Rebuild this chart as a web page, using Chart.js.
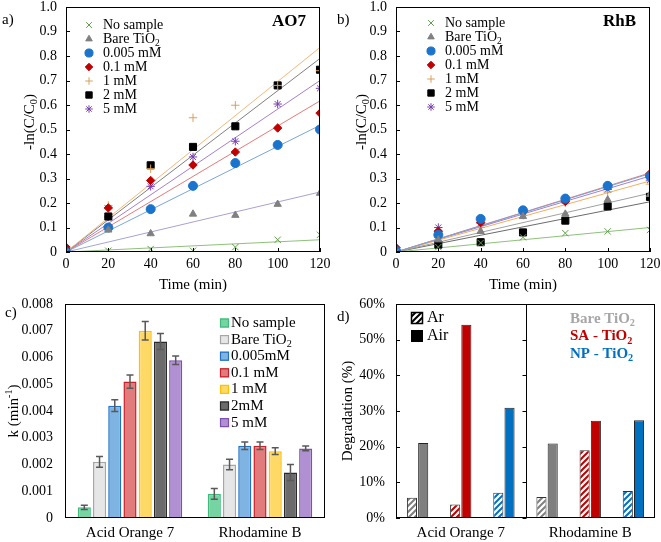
<!DOCTYPE html>
<html>
<head>
<meta charset="utf-8">
<script src="https://cdn.jsdelivr.net/npm/chart.js@4.4.0/dist/chart.umd.min.js"></script>
<style>
  body { margin: 0; background: #fff; }
  #wrap { position: relative; width: 661px; height: 542px; }
  canvas { position: absolute; }
</style>
</head>
<body>
<div id="wrap">
  <canvas id="cA" width="330" height="292" style="left:0;top:0"></canvas>
  <canvas id="cB" width="331" height="292" style="left:330px;top:0"></canvas>
  <canvas id="cC" width="330" height="252" style="left:0;top:290px"></canvas>
  <canvas id="cD" width="331" height="252" style="left:330px;top:290px"></canvas>
</div>
<script>
// ---- dados ----
const times = [0, 20, 40, 60, 80, 100, 120];
const seriesNames = ['No sample', 'Bare TiO2', '0.005 mM', '0.1 mM', '1 mM', '2 mM', '5 mM'];

// a) AO7  -ln(C/C0)
const aoNoSample = [0, 0.005, 0.012, 0.005, 0.02, 0.05, 0.07];
const aoBare     = [0, 0.09, 0.075, 0.155, 0.15, 0.195, 0.24];
const ao0005     = [0, 0.10, 0.175, 0.27, 0.363, 0.437, 0.50];
const ao01       = [0.02, 0.18, 0.292, 0.355, 0.408, 0.506, 0.567];
const ao1        = [0, 0.19, 0.34, 0.548, 0.599, 0.68, 0.74];
const ao2        = [0, 0.145, 0.354, 0.429, 0.513, 0.68, 0.744];
const ao5        = [0, 0.143, 0.268, 0.388, 0.452, 0.604, 0.668];
const aoFitEnd   = [0.05, 0.245, 0.517, 0.617, 0.835, 0.79, 0.70];   // trendline value at 120 min

// b) RhB
const rhNoSample = [0, 0.02, 0.037, 0.06, 0.077, 0.084, 0.09];
const rhBare     = [0, 0.05, 0.084, 0.145, 0.155, 0.213, 0.235];
const rh0005     = [0.005, 0.07, 0.135, 0.17, 0.218, 0.27, 0.31];
const rh01       = [0.018, 0.085, 0.12, 0.164, 0.206, 0.27, 0.32];
const rh1        = [0, 0.06, 0.10, 0.15, 0.20, 0.245, 0.277];
const rh2        = [0, 0.03, 0.04, 0.08, 0.128, 0.186, 0.225];
const rh5        = [0, 0.10, 0.118, 0.163, 0.208, 0.255, 0.293];
const rhFitEnd   = [0.10, 0.24, 0.32, 0.323, 0.29, 0.205, 0.31];

// c) k (min-1)
const dyes = ['Acid Orange 7', 'Rhodamine B'];
const kSeries = ['No sample', 'Bare TiO2', '0.005mM', '0.1 mM', '1 mM', '2mM', '5 mM'];
const kNoSample = [0.0004, 0.0009];
const kBare     = [0.0021, 0.0020];
const k0005     = [0.0042, 0.0027];
const k01       = [0.0051, 0.0027];
const k1        = [0.0070, 0.0025];
const k2        = [0.0066, 0.0017];
const k5        = [0.0059, 0.0026];
const kErrNoSample = [0.00008, 0.0002];
const kErrBare     = [0.0002, 0.0002];
const kErr0005     = [0.00022, 0.00014];
const kErr01       = [0.00025, 0.00014];
const kErr1        = [0.00035, 0.00013];
const kErr2        = [0.0003, 0.0003];
const kErr5        = [0.00016, 0.00009];
const kTicks = [0, 0.001, 0.002, 0.003, 0.004, 0.005, 0.006, 0.007, 0.008];

// d) degradação (%)
const samples = ['Bare TiO2', 'SA - TiO2', 'NP - TiO2'];
const degAr  = [5.7, 3.8, 7.1, 5.9, 19.0, 7.6];    // AO7 x3, RhB x3
const degAir = [21.0, 54.2, 30.9, 20.9, 27.3, 27.4];

// ---- estilos ----
const FONT = '"Liberation Serif", "Times New Roman", serif';
Chart.defaults.font.family = FONT;
Chart.defaults.font.size = 14;
Chart.defaults.color = '#000';
Chart.defaults.animation = false;
Chart.defaults.events = [];

const markerStyles = [
  { ps: 'crossRot', r: 4.5, color: '#5f9e48', line: '#8fc07c', bw: 1 },
  { ps: 'triangle', r: 4.2, color: '#808080', line: '#a7a3d3', bw: 1 },
  { ps: 'circle',   r: 4.5, color: '#1a73cc', line: '#7aa6d8', bw: 1 },
  { ps: 'rectRot',  r: 4.2, color: '#c00000', line: '#e47a7a', bw: 1 },
  { ps: 'cross',    r: 4.2, color: '#dba05a', line: '#f0b878', bw: 1 },
  { ps: 'rect',     r: 5,   color: '#000000', line: '#7f7f7f', bw: 1 },
  { ps: 'star',     r: 4.2, color: '#7a3eb0', line: '#a47fd0', bw: 1 }
];
const rhLineColors = ['#8fc07c', '#a0a0a0', '#7aa6d8', '#e47a7a', '#f0b060', '#6b6b6b', '#a47fd0'];

const barFill   = ['#76d3a2', '#e6e6e6', '#7fb3e2', '#e27c7c', '#ffd966', '#6b6b6b', '#b08fd2'];
const barBorder = ['#3dbb7a', '#a6a6a6', '#1f70c6', '#c8202a', '#ffc000', '#2b2b2b', '#7d4fb0'];
const sampleColors = ['#7f7f7f', '#c00000', '#0070c0'];
const sampleTextColors = ['#a6a6a6', '#c00000', '#0070c0'];

// texto com subscrito / sobrescrito
function rich(ctx, parts, x, y, size, opt = {}) {
  const weight = opt.bold ? 'bold ' : '';
  const items = parts.map(p => typeof p === 'string' ? { t: p, m: '' } : { t: p[0], m: p[1] });
  let total = 0;
  items.forEach(it => {
    it.size = it.m ? size * 0.68 : size;
    ctx.font = weight + it.size + 'px ' + FONT;
    it.w = ctx.measureText(it.t).width;
    total += it.w;
  });
  let cx = opt.align === 'center' ? x - total / 2 : opt.align === 'right' ? x - total : x;
  ctx.textAlign = 'left';
  ctx.textBaseline = 'middle';
  ctx.fillStyle = opt.color || '#000';
  items.forEach(it => {
    ctx.font = weight + it.size + 'px ' + FONT;
    const dy = it.m === 'sub' ? size * 0.3 : it.m === 'sup' ? -size * 0.32 : 0;
    ctx.fillText(it.t, cx, y + dy);
    cx += it.w;
  });
}
function richV(ctx, parts, x, y, size) {
  ctx.save();
  ctx.translate(x, y);
  ctx.rotate(-Math.PI / 2);
  rich(ctx, parts, 0, 0, size, { align: 'center' });
  ctx.restore();
}
function nameParts(name) {
  return name.includes('TiO2') ? [name.replace('TiO2', 'TiO'), ['2', 'sub']] : [name];
}

// moldura + marcas para dentro
function frame(chart, opts) {
  const { ctx, chartArea: a, scales } = chart;
  ctx.save();
  ctx.strokeStyle = '#000';
  ctx.lineWidth = 1;
  ctx.strokeRect(a.left + 0.5, a.top + 0.5, a.right - a.left - 1, a.bottom - a.top - 1);
  ctx.beginPath();
  if (opts.yTicks) {
    scales.y.ticks.forEach(t => {
      const py = Math.round(scales.y.getPixelForValue(t.value)) + 0.5;
      ctx.moveTo(a.left, py); ctx.lineTo(a.left + 4, py);
    });
  }
  if (opts.xTicks) {
    scales.x.ticks.forEach(t => {
      const px = Math.round(scales.x.getPixelForValue(t.value)) + 0.5;
      ctx.moveTo(px, a.bottom); ctx.lineTo(px, a.bottom - 4);
    });
  }
  ctx.stroke();
  ctx.restore();
}

function fixedAxes(yWidth, xHeight) {
  return {
    y: s => { s.width = yWidth; s.paddingTop = 0; s.paddingBottom = 0; },
    x: s => { s.height = xHeight; s.paddingLeft = 0; s.paddingRight = 0; }
  };
}

// ---- a) e b) ----
function kineticsChart(id, series, fitEnds, lineColors, info) {
  const datasets = [];
  series.forEach((vals, i) => {
    const st = markerStyles[i];
    datasets.push({
      label: seriesNames[i],
      data: times.map((t, j) => ({ x: t, y: vals[j] })),
      pointStyle: st.ps, pointRadius: st.r, pointBorderWidth: st.bw,
      backgroundColor: st.color, borderColor: st.color, showLine: false
    });
  });
  fitEnds.forEach((end, i) => {
    datasets.push({
      data: [{ x: 0, y: 0 }, { x: times[times.length - 1], y: end }],
      borderColor: lineColors[i], borderWidth: 1, pointRadius: 0, showLine: true
    });
  });
  const fa = fixedAxes(66, 40);
  new Chart(document.getElementById(id), {
    type: 'scatter',
    data: { datasets },
    options: {
      responsive: false,
      layout: { padding: { left: 0, right: info.right, top: 7, bottom: 0 } },
      plugins: { legend: { display: false }, tooltip: { enabled: false } },
      scales: {
        x: {
          type: 'linear', min: 0, max: 120,
          ticks: { stepSize: 20, padding: 4 },
          grid: { display: false, drawTicks: false }, border: { display: false },
          afterFit: fa.x
        },
        y: {
          min: 0, max: 1,
          ticks: { stepSize: 0.1, padding: 9 },
          grid: { display: false, drawTicks: false }, border: { display: false },
          afterFit: fa.y
        }
      }
    },
    plugins: [{
      id: 'extras',
      afterDraw(chart) {
        const ctx = chart.ctx;
        const a = chart.chartArea;
        frame(chart, { yTicks: true, xTicks: true });
        // legenda
        seriesNames.forEach((name, i) => {
          const st = markerStyles[i];
          const y = info.legY + i * 14;
          ctx.save();
          ctx.fillStyle = st.color; ctx.strokeStyle = st.color; ctx.lineWidth = st.bw;
          Chart.helpers.drawPoint(ctx, { pointStyle: st.ps, radius: st.r * 0.9, borderWidth: st.bw, rotation: 0 }, info.legX, y);
          ctx.restore();
          rich(ctx, nameParts(name), info.legX + 14, y, 14);
        });
        rich(ctx, [info.tag], a.right - 14, 22, 17, { bold: true, align: 'right' });
        rich(ctx, [info.panel], info.panelX, 20, 15);
        richV(ctx, ['-ln(C/C', ['0', 'sub'], ')'], info.yTitleX, 122, 15);
        rich(ctx, ['Time (min)'], (a.left + a.right) / 2, 285, 15, { align: 'center' });
      }
    }]
  });
}

kineticsChart('cA', [aoNoSample, aoBare, ao0005, ao01, ao1, ao2, ao5], aoFitEnd,
  markerStyles.map(s => s.line),
  { right: 10, legX: 89, legY: 25, tag: 'AO7', panel: 'a)', panelX: 2, yTitleX: 30 });
kineticsChart('cB', [rhNoSample, rhBare, rh0005, rh01, rh1, rh2, rh5], rhFitEnd,
  rhLineColors,
  { right: 11, legX: 101, legY: 23, tag: 'RhB', panel: 'b)', panelX: 7, yTitleX: 32 });

// ---- c) ----
const kValues = [kNoSample, kBare, k0005, k01, k1, k2, k5];
const kErrors = [kErrNoSample, kErrBare, kErr0005, kErr01, kErr1, kErr2, kErr5];
const faC = fixedAxes(65, 24);
new Chart(document.getElementById('cC'), {
  type: 'bar',
  data: {
    labels: dyes,
    datasets: kValues.map((vals, i) => ({
      label: kSeries[i], data: vals,
      backgroundColor: barFill[i], borderColor: barBorder[i], borderWidth: 1.5,
      categoryPercentage: 0.82, barPercentage: 0.86
    }))
  },
  options: {
    responsive: false,
    layout: { padding: { left: 0, right: 5, top: 14, bottom: 0 } },
    plugins: { legend: { display: false }, tooltip: { enabled: false } },
    scales: {
      x: {
        ticks: { padding: 6, font: { size: 15 } },
        grid: { display: false, drawTicks: false }, border: { display: false },
        afterFit: faC.x
      },
      y: {
        min: kTicks[0], max: kTicks[kTicks.length - 1],
        afterBuildTicks: s => { s.ticks = kTicks.map(v => ({ value: v })); },
        ticks: { padding: 12, callback: v => v === 0 ? '0' : v.toFixed(3) },
        grid: { display: false, drawTicks: false }, border: { display: false },
        afterFit: faC.y
      }
    }
  },
  plugins: [{
    id: 'extrasC',
    afterDatasetsDraw(chart) {
      const ctx = chart.ctx;
      const ys = chart.scales.y;
      ctx.save();
      ctx.strokeStyle = '#595959';
      ctx.lineWidth = 1.5;
      kErrors.forEach((errs, i) => {
        chart.getDatasetMeta(i).data.forEach((bar, j) => {
          const v = kValues[i][j];
          const top = ys.getPixelForValue(v + errs[j]);
          const bot = ys.getPixelForValue(v - errs[j]);
          ctx.beginPath();
          ctx.moveTo(bar.x, top); ctx.lineTo(bar.x, bot);
          ctx.moveTo(bar.x - 3.5, top); ctx.lineTo(bar.x + 3.5, top);
          ctx.moveTo(bar.x - 3.5, bot); ctx.lineTo(bar.x + 3.5, bot);
          ctx.stroke();
        });
      });
      ctx.restore();
    },
    afterDraw(chart) {
      const ctx = chart.ctx;
      const a = chart.chartArea;
      frame(chart, {});
      kSeries.forEach((name, i) => {
        const y = 33 + i * 16.6;
        ctx.fillStyle = barFill[i];
        ctx.strokeStyle = barBorder[i];
        ctx.lineWidth = 1.2;
        ctx.fillRect(220, y - 4.5, 9, 9);
        ctx.strokeRect(220.5, y - 4, 8, 8);
        rich(ctx, nameParts(name), 231, y, 15);
      });
      rich(ctx, ['c)'], 5, 23, 15);
      richV(ctx, ['k (min', ['-1', 'sup'], ')'], 14, (a.top + a.bottom) / 2, 15);
    }
  }]
});

// ---- d) ----
const ctxD = document.getElementById('cD').getContext('2d');
function hatch(color) {
  const tile = document.createElement('canvas');
  tile.width = tile.height = 6;
  const g = tile.getContext('2d');
  g.fillStyle = '#fff';
  g.fillRect(0, 0, 6, 6);
  g.strokeStyle = color;
  g.lineWidth = 2;
  g.beginPath();
  g.moveTo(0, 6); g.lineTo(6, 0);
  g.moveTo(-1, 1); g.lineTo(1, -1);
  g.moveTo(5, 7); g.lineTo(7, 5);
  g.stroke();
  return ctxD.createPattern(tile, 'repeat');
}
const dLabels = dyes.flatMap(d => samples.map(() => d));
const arFill = dLabels.map((_, i) => hatch(sampleColors[i % 3]));
const airFill = dLabels.map((_, i) => sampleColors[i % 3]);
const faD = fixedAxes(66, 24);
new Chart(ctxD, {
  type: 'bar',
  data: {
    labels: dLabels,
    datasets: [
      { label: 'Ar', data: degAr, backgroundColor: arFill, borderColor: '#333', borderWidth: 1,
        categoryPercentage: 0.52, barPercentage: 0.9 },
      { label: 'Air', data: degAir, backgroundColor: airFill, borderColor: '#222', borderWidth: 1,
        categoryPercentage: 0.52, barPercentage: 0.9 }
    ]
  },
  options: {
    responsive: false,
    layout: { padding: { left: 0, right: 6, top: 14, bottom: 0 } },
    plugins: { legend: { display: false }, tooltip: { enabled: false } },
    scales: {
      x: {
        ticks: { padding: 6, autoSkip: false, maxRotation: 0, font: { size: 15 },
          callback: (v, i) => i % 3 === 1 ? dLabels[i] : '' },
        grid: { display: false, drawTicks: false }, border: { display: false },
        afterFit: faD.x
      },
      y: {
        min: 0, max: 60,
        ticks: { stepSize: 10, padding: 11, callback: v => v + '%' },
        grid: { display: false, drawTicks: false }, border: { display: false },
        afterFit: faD.y
      }
    }
  },
  plugins: [{
    id: 'extrasD',
    afterDraw(chart) {
      const ctx = chart.ctx;
      const a = chart.chartArea;
      const xs = chart.scales.x, ys = chart.scales.y;
      frame(chart, { yTicks: true });
      // divisória entre os corantes
      const xd = Math.round((xs.getPixelForValue(2) + xs.getPixelForValue(3)) / 2) + 0.5;
      ctx.save();
      ctx.strokeStyle = '#000';
      ctx.lineWidth = 1;
      ctx.beginPath();
      ctx.moveTo(xd, a.top); ctx.lineTo(xd, a.bottom);
      ys.ticks.forEach(t => {
        const py = Math.round(ys.getPixelForValue(t.value)) + 0.5;
        ctx.moveTo(xd - 4, py); ctx.lineTo(xd, py);
      });
      ctx.stroke();
      // legenda Ar / Air
      ctx.fillStyle = hatch('#000');
      ctx.fillRect(81, 22, 12, 12);
      ctx.strokeStyle = '#000';
      ctx.lineWidth = 1.5;
      ctx.strokeRect(81.5, 22.5, 11, 11);
      ctx.fillStyle = '#000';
      ctx.fillRect(81, 40, 12, 12);
      ctx.restore();
      rich(ctx, ['Ar'], 97, 28, 16);
      rich(ctx, ['Air'], 97, 46, 16);
      samples.forEach((s, i) => {
        rich(ctx, nameParts(s), 240, 29 + i * 17.5, 15, { bold: true, color: sampleTextColors[i] });
      });
      rich(ctx, ['d)'], 7, 27, 15);
      richV(ctx, ['Degradation (%)'], 18, (a.top + a.bottom) / 2, 15);
    }
  }]
});
</script>
</body>
</html>
